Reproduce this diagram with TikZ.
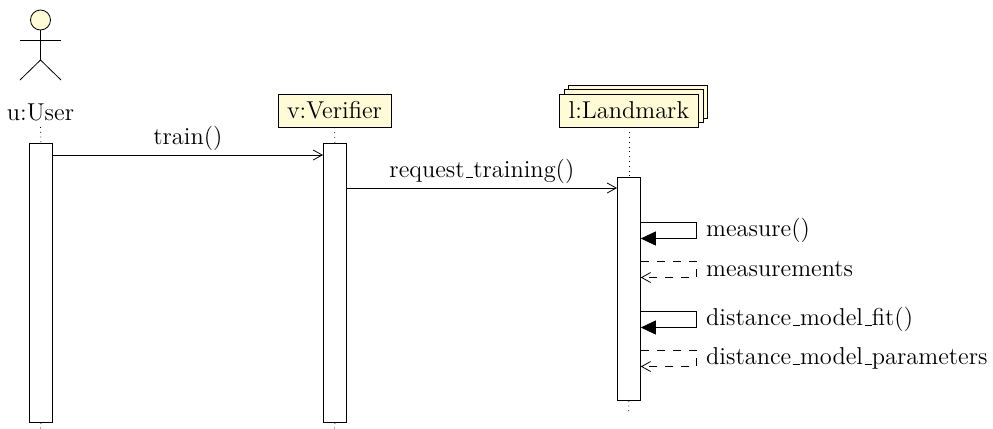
\documentclass[tikz,border=0pt]{standalone}
\usepackage{amsmath}
\usetikzlibrary{calc}
\usetikzlibrary{positioning}
\usetikzlibrary{arrows.meta}

\definecolor{objfill}{HTML}{FFFBD6}
\newcommand{\us}{\leavevmode\kern.06em\vbox{\hrule width.3em}}

\begin{document}
\begin{tikzpicture}[x=0.5pt, y=-0.5pt,
        every node/.style={font=\fontsize{12.2}{14}\selectfont},
        obj/.style={rectangle, draw=black, fill=objfill, inner sep=0pt, minimum height=16.5pt},
        actbox/.style={rectangle, draw=black, fill=white, anchor=north west, inner sep=0pt, minimum width=11.5pt},
        life/.style={dotted, line width=0.4pt},
        msg/.style={-{Straight Barb[length=4.5pt, width=5pt]}},
        selfcall/.style={-{Triangle[length=7.5pt, width=7pt]}},
        selfback/.style={dash pattern=on 4pt off 4pt, -{Straight Barb[length=4.5pt, width=5pt]}}]
    \useasboundingbox (0, 0) rectangle (993, 429);
    % actor
    \node[circle, draw=black, fill=objfill, inner sep=0pt, minimum size=10pt] (head) at (40.5, 20) {};
    \coordinate (hip) at (40.5, 60);
    \coordinate (armL) at (20, 40);
    \coordinate (armR) at (61, 40);
    \coordinate (footL) at (20, 80);
    \coordinate (footR) at (61, 80);
    \draw (head) -- (hip);
    \draw (armL) -- (armR);
    \draw (footL) -- (hip) -- (footR);
    \node (user) at (40.5, 112) {u:User};
    % objects
    \node[obj, minimum width=56.5pt] (verifier) at (334.5, 110.5) {v:Verifier};
    \node[obj, minimum width=69.5pt, anchor=north west] (land3) at (568, 84.5) {};
    \node[obj, minimum width=69.5pt, anchor=north west] (land2) at (563.5, 89) {};
    \node[obj, minimum width=69.5pt, anchor=north west] (landmark) at (559, 93.5) {l:Landmark};
    % activity boxes
    \node[actbox, minimum height=139.5pt] (ubox) at (29, 143) {};
    \node[actbox, minimum height=139.5pt] (vbox) at (323, 143) {};
    \node[actbox, minimum height=111.5pt] (lbox) at (617, 177) {};
    % lifelines
    \coordinate (uend) at (40.5, 429);
    \coordinate (vend) at (334.5, 429);
    \coordinate (lend) at (628.5, 415);
    \draw[life] (user.south |- 0, 127) -- (ubox.north);
    \draw[life] (ubox.south) -- (uend);
    \draw[life] (verifier) -- (vbox.north);
    \draw[life] (vbox.south) -- (vend);
    \draw[life] (landmark.south -| lbox.north) -- (lbox.north);
    \draw[life] (lbox.south) -- (lend);
    % calls
    \draw[msg] (ubox.east |- 0, 155) -- node[above=-1.5pt] {train()} (vbox.west |- 0, 155);
    \draw[msg] (vbox.east |- 0, 188) -- node[above=-1.5pt] {request\us training()} (lbox.west |- 0, 188);
    % calls to itself
    \foreach \y/\t/\s[count=\i from 1] in {222/measure()/selfcall, 261/measurements/selfback,
        311/distance\us model\us fit()/selfcall, 350/distance\us model\us parameters/selfback}
    {
        \coordinate (from\i) at ($(lbox.east |- 0, \y)$);
        \coordinate (to\i) at ($(from\i) + (0, 16.5)$);
        \node[anchor=west, inner sep=0pt] (call\i) at ($(from\i) + (65, 8.5)$) {\t};
        \draw[\s] (from\i) -| ($(to\i) + (56, 0)$) -- (to\i);
    }
\end{tikzpicture}
\end{document}
